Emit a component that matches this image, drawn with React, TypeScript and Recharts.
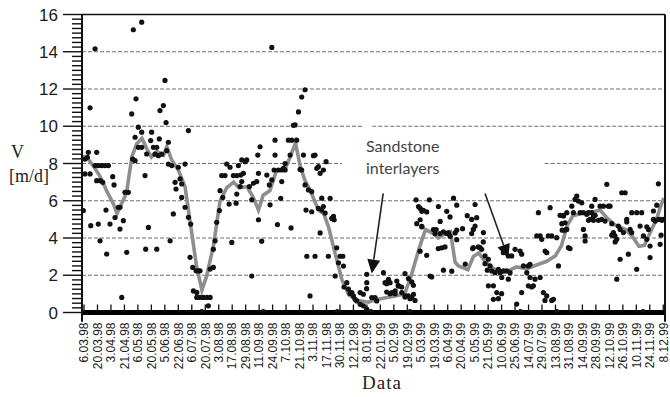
import { ComposedChart, Scatter, Line, XAxis, YAxis, ReferenceLine } from "recharts";

// x positions are in "label slots" (0 = 6.03.98 … 43 = 8.12.99), y in m/d
const dateLabels = [
  "6.03.98", "20.03.98", "3.04.98", "21.04.98", "6.05.98", "20.05.98", "5.06.98", "22.06.98",
  "6.07.98", "20.07.98", "3.08.98", "17.08.98", "29.08.98", "11.09.98", "24.09.98", "7.10.98",
  "21.10.98", "3.11.98", "17.11.98", "30.11.98", "12.12.98", "8.01.99", "22.01.99", "5.02.99",
  "19.02.99", "5.03.99", "19.03.99", "6.04.99", "20.04.99", "5.05.99", "21.05.99", "10.06.99",
  "25.06.99", "14.07.99", "29.07.99", "13.08.99", "31.08.99", "14.09.99", "28.09.99", "12.10.99",
  "26.10.99", "10.11.99", "24.11.99", "8.12.99",
];

const measured: [number, number][] = [
  [-0.05, 5.47], [0.07, 7.44], [0.07, 8.24], [0.25, 8.33], [0.32, 8.6], [0.45, 7.44], [0.45, 10.99], [0.5, 4.66],
  [0.82, 14.16], [0.82, 7.89], [0.94, 8.6], [0.94, 7.08], [1.06, 7.89], [1.06, 4.75], [1.19, 7.08], [1.19, 3.85],
  [1.31, 7.89], [1.39, 6.99], [1.56, 7.89], [1.63, 5.5], [1.68, 3.14], [1.81, 7.89], [1.93, 4.75], [2.13, 7.29],
  [2.23, 6.85], [2.3, 5.1], [2.55, 5.65], [2.67, 5.65], [2.67, 4.48], [2.8, 0.81], [2.92, 4.93], [3.04, 6.45],
  [3.17, 3.23], [3.29, 6.45], [3.54, 10.66], [3.61, 8.24], [3.66, 15.18], [3.79, 8.15], [3.79, 9.41], [3.86, 11.47],
  [4.03, 9.95], [4.03, 8.87], [4.28, 15.59], [4.28, 9.68], [4.28, 8.87], [4.53, 7.35], [4.58, 3.4], [4.65, 8.51],
  [4.78, 4.57], [4.95, 9.23], [5.02, 9.68], [5.15, 8.87], [5.27, 8.5], [5.4, 8.87], [5.4, 3.4], [5.52, 8.42],
  [5.59, 9.32], [5.64, 10.84], [5.77, 8.5], [5.89, 11.11], [6.01, 12.46], [6.09, 10.2], [6.14, 8.69], [6.26, 9.14],
  [6.26, 7.97], [6.39, 3.85], [6.51, 7.89], [6.63, 5.29], [6.76, 6.99], [6.83, 6.63], [7.0, 7.8], [7.13, 7.17],
  [7.25, 6.9], [7.25, 6.18], [7.5, 7.97], [7.5, 5.65], [7.75, 5.11], [7.75, 9.77], [7.87, 2.96], [7.92, 4.75],
  [8.07, 2.42], [8.12, 1.16], [8.32, 2.24], [8.37, 1.08], [8.37, 0.81], [8.49, 2.24], [8.61, 2.24], [8.61, 0.81],
  [8.74, 0.05], [8.86, 0.81], [9.11, 0.81], [9.23, 0.36], [9.36, 0.81], [9.36, 2.33], [9.6, 2.42], [9.6, 3.4],
  [9.73, 3.85], [9.85, 4.84], [10.05, 5.47], [10.1, 6.54], [10.22, 7.35], [10.3, 6.18], [10.47, 7.35], [10.59, 7.97],
  [10.77, 5.82], [10.84, 7.8], [10.97, 3.76], [11.09, 7.35], [11.29, 5.87], [11.34, 7.35], [11.34, 6.36], [11.46, 7.89],
  [11.59, 6.76], [11.63, 7.38], [11.71, 8.19], [11.71, 7.03], [11.83, 7.47], [11.96, 8.1], [12.08, 8.19], [12.28, 6.76],
  [12.45, 6.05], [12.45, 1.96], [12.58, 6.94], [12.82, 7.03], [12.9, 8.45], [12.95, 7.47], [12.95, 4.98], [13.07, 8.9],
  [13.19, 3.83], [13.3, 0.05], [13.57, 7.38], [13.76, 6.85], [13.81, 5.78], [13.94, 7.12], [13.94, 14.23], [14.11, 7.65],
  [14.18, 9.25], [14.18, 8.45], [14.36, 4.72], [14.43, 7.65], [14.6, 6.13], [14.68, 7.65], [14.68, 7.03], [14.8, 7.74],
  [14.93, 8.0], [14.93, 7.65], [15.17, 9.25], [15.3, 8.45], [15.37, 4.54], [15.42, 9.25], [15.54, 10.05], [15.67, 10.07],
  [15.79, 9.25], [15.92, 10.77], [16.04, 7.68], [16.16, 11.57], [16.16, 7.65], [16.29, 8.45], [16.41, 11.96], [16.41, 6.85],
  [16.48, 5.5], [16.54, 3.02], [16.66, 6.58], [16.78, 0.89], [16.9, 6.49], [16.9, 5.41], [17.03, 8.42], [17.15, 8.45],
  [17.15, 3.02], [17.28, 7.74], [17.4, 7.83], [17.4, 5.59], [17.53, 7.47], [17.53, 4.27], [17.65, 6.14], [17.65, 5.5],
  [17.77, 7.65], [17.77, 5.69], [17.9, 5.34], [17.97, 8.1], [18.14, 3.02], [18.27, 6.13], [18.39, 5.05], [18.52, 5.16],
  [18.57, 4.98], [18.64, 1.96], [18.76, 3.47], [18.8, 0.05], [18.89, 2.67], [19.01, 3.02], [19.21, 3.02], [19.26, 2.49],
  [19.3, 1.37], [19.51, 1.6], [19.63, 1.25], [19.75, 1.02], [19.88, 1.07], [20.0, 0.89], [20.12, 0.71], [20.25, 0.62],
  [20.5, 1.07], [20.5, 0.44], [20.74, 0.98], [20.74, 0.36], [20.98, 1.28], [20.99, 1.6], [20.99, 2.05], [20.99, 0.18],
  [21.3, 0.05], [21.36, 0.8], [21.6, 0.8], [21.73, 0.62], [22.23, 2.14], [22.35, 1.6], [22.47, 1.55], [22.47, 1.1],
  [22.6, 1.78], [22.72, 1.6], [22.72, 1.01], [22.85, 1.07], [23.09, 1.01], [23.1, 1.16], [23.22, 1.69], [23.33, 1.46],
  [23.34, 1.42], [23.58, 1.37], [23.59, 1.07], [23.83, 2.09], [23.83, 0.83], [23.84, 0.89], [24.08, 1.82], [24.08, 0.89],
  [24.2, 0.74], [24.2, 0.05], [24.33, 1.64], [24.33, 0.8], [24.45, 1.46], [24.46, 0.98], [24.57, 0.65], [24.65, 6.05],
  [24.7, 4.77], [24.83, 5.69], [24.95, 5.6], [24.95, 4.98], [24.95, 3.29], [25.07, 4.6], [25.08, 5.43], [25.08, 4.63],
  [25.19, 5.49], [25.44, 3.07], [25.44, 5.4], [25.64, 6.05], [25.69, 1.96], [25.81, 1.91], [25.94, 4.45], [26.06, 4.24],
  [26.14, 4.45], [26.31, 5.69], [26.3, 3.43], [26.43, 4.24], [26.44, 4.89], [26.56, 3.47], [26.68, 4.33], [26.68, 2.27],
  [26.8, 3.52], [26.92, 4.24], [26.93, 5.43], [27.06, 4.27], [27.17, 5.13], [27.18, 4.09], [27.3, 2.22], [27.43, 6.14],
  [27.55, 4.27], [27.67, 3.91], [27.67, 5.76], [27.67, 4.42], [28.1, 4.5], [28.3, 2.6], [28.45, 5.2], [28.78, 5.0],
  [28.78, 4.24], [28.85, 3.43], [28.9, 4.46], [28.9, 3.48], [29.03, 5.8], [29.03, 4.64], [29.15, 5.09], [29.27, 3.52],
  [29.4, 3.48], [29.52, 3.39], [29.64, 3.79], [29.65, 4.29], [29.77, 3.04], [29.77, 2.62], [29.94, 2.27], [30.02, 2.86],
  [30.02, 1.43], [30.14, 2.5], [30.27, 2.23], [30.39, 1.43], [30.39, 0.71], [30.51, 2.14], [30.64, 1.07], [30.76, 2.32],
  [30.76, 0.74], [30.89, 2.14], [31.01, 1.88], [31.0, 1.01], [31.13, 2.23], [31.13, 3.21], [31.38, 2.23], [31.38, 3.48],
  [31.5, 1.79], [31.5, 3.04], [31.63, 2.14], [31.75, 3.04], [32.0, 3.39], [32.12, 0.45], [32.37, 3.3], [32.4, 0.05],
  [32.49, 3.13], [32.49, 1.07], [32.62, 2.5], [32.87, 2.14], [32.99, 2.5], [32.99, 1.43], [33.11, 2.59], [33.11, 1.88],
  [33.23, 1.37], [33.36, 1.43], [33.48, 1.79], [33.61, 4.11], [33.73, 5.36], [33.86, 4.11], [33.86, 1.88], [33.98, 3.93],
  [34.1, 1.07], [34.23, 3.3], [34.22, 0.65], [34.35, 3.21], [34.35, 0.89], [34.47, 4.11], [34.6, 5.63], [34.72, 4.11],
  [34.72, 0.65], [34.85, 0.71], [35.09, 4.02], [35.1, 0.05], [35.22, 2.5], [35.34, 5.22], [35.47, 4.77], [35.5, 4.42],
  [35.59, 5.18], [35.6, 5.22], [35.71, 4.82], [35.71, 4.42], [35.84, 4.46], [35.84, 5.36], [35.96, 3.48], [36.08, 3.43],
  [36.21, 5.71], [36.33, 5.36], [36.45, 6.07], [36.58, 6.25], [36.7, 5.98], [36.83, 5.36], [36.95, 5.89], [37.07, 5.36],
  [37.07, 4.46], [37.2, 4.11], [37.2, 3.84], [37.32, 5.27], [37.44, 5.36], [37.45, 4.95], [37.57, 5.0], [37.69, 5.36],
  [37.69, 5.71], [37.82, 5.18], [37.82, 4.95], [37.94, 6.07], [37.94, 5.22], [38.19, 4.95], [38.31, 5.71], [38.43, 5.0],
  [38.56, 5.71], [38.68, 4.91], [38.81, 6.88], [38.93, 5.71], [39.05, 5.71], [39.18, 4.77], [39.18, 4.15], [39.3, 4.29],
  [39.42, 4.11], [39.43, 3.79], [39.55, 3.93], [39.55, 1.79], [39.67, 4.64], [39.8, 4.46], [39.8, 2.86], [39.92, 6.43],
  [40.04, 4.29], [40.17, 6.43], [40.29, 5.0], [40.29, 4.86], [40.41, 3.13], [40.54, 4.46], [40.66, 4.29], [40.66, 5.36],
  [41.03, 5.36], [41.03, 2.32], [41.28, 4.64], [41.4, 5.36], [41.5, 0.05], [41.53, 4.11], [41.78, 3.93], [41.78, 4.6],
  [41.9, 4.46], [42.02, 2.95], [42.02, 3.57], [42.27, 5.0], [42.27, 5.45], [42.4, 4.91], [42.52, 5.76], [42.64, 5.0],
  [42.64, 6.91], [42.77, 5.0], [42.77, 3.66], [42.84, 4.15], [42.9, 4.95], [43.0, 5.0],
];

// gray running-mean curve
const trend: [number, number][] = [
  [-0.1, 8.4], [0.25, 8.3], [0.7, 7.85], [1.2, 7.3], [1.7, 6.5], [2.2, 5.8], [2.45, 5.3], [2.7, 5.7],
  [3.15, 6.4], [3.55, 8.35], [3.9, 9.05], [4.3, 9.35], [4.65, 8.8], [5.0, 8.35], [5.4, 8.65], [5.9, 8.45],
  [6.15, 8.9], [6.5, 8.2], [7.0, 7.65], [7.5, 6.75], [8.0, 4.25], [8.35, 2.5], [8.75, 1.2], [9.1, 1.95],
  [9.6, 3.55], [10.1, 6.0], [10.6, 6.7], [11.1, 7.0], [11.5, 6.7], [12.1, 6.75], [12.55, 6.2], [12.95, 5.5],
  [13.3, 6.3], [13.8, 6.55], [14.3, 7.65], [14.9, 7.65], [15.3, 8.35], [15.7, 9.1], [16.05, 7.85], [16.4, 7.1],
  [16.8, 6.55], [17.4, 5.5], [17.8, 5.3], [18.15, 4.6], [18.65, 3.15], [19.15, 1.75], [19.65, 0.95], [20.25, 0.65],
  [21.1, 0.55], [21.7, 0.7], [22.5, 0.8], [23.2, 0.9], [23.8, 1.0], [24.3, 2.0], [24.9, 3.5], [25.35, 4.45],
  [25.9, 4.25], [26.3, 4.0], [26.9, 4.3], [27.2, 4.35], [27.55, 2.7], [27.8, 2.5], [28.5, 2.3], [28.9, 3.0],
  [29.3, 3.2], [29.65, 2.85], [30.15, 2.5], [30.8, 2.15], [31.4, 2.2], [32.1, 2.45], [32.9, 2.35], [33.6, 2.55],
  [34.35, 2.75], [35.0, 3.05], [35.45, 3.6], [35.85, 4.65], [36.3, 5.2], [37.1, 5.35], [37.8, 5.4], [38.3, 5.5],
  [38.8, 5.1], [39.4, 4.7], [40.2, 4.45], [40.7, 4.1], [41.2, 3.55], [41.6, 3.6], [42.1, 4.4], [42.5, 5.0],
  [42.8, 5.7], [43.05, 6.15],
];

const majorY = [0, 2, 4, 6, 8, 10, 12, 14, 16];
const fullGridY = [2, 4, 6, 12, 14];
// gridlines broken by the annotation text: [y, fromX, toX]
const brokenGrid: [number, number, number][] = [
  [10, -0.15, 20.7], [10, 21.4, 43.13],
  [8, -0.15, 19.15], [8, 34.2, 43.13],
];
// arrows: [fromX, fromY, toX, toY]
const arrows: [number, number, number, number][] = [
  [22.21, 6.39, 21.36, 2.09],
  [29.77, 6.39, 31.5, 2.9],
];

const X_MIN = -0.15;
const X_MAX = 43.13;

const dotRows = measured.map(([x, y]) => ({ x, y }));
const trendRows = trend.map(([x, y]) => ({ x, y }));
const yTicks = Array.from({ length: 65 }, (_, i) => i * 0.25);
const xTicks = dateLabels.map((_, i) => i);

const YTick = (props: any) => {
  const { x, y, payload } = props;
  const v = payload.value;
  const major = majorY.includes(v);
  const len = major ? 19 : 10;
  return (
    <g>
      <line x1={x - len} x2={x} y1={y} y2={y} stroke="#111" strokeWidth={1.4} />
      {major && (
        <text x={x - 24} y={y} dy="0.36em" textAnchor="end" fontSize={17} fill="#1a1a1a"
          fontFamily="'Liberation Sans', Arial, sans-serif">
          {v}
        </text>
      )}
    </g>
  );
};

const XTick = (props: any) => {
  const { x, y, payload } = props;
  const label = dateLabels[payload.value] ?? "";
  return (
    <g>
      <line x1={x} x2={x} y1={y} y2={y - 8} stroke="#111" strokeWidth={1.3} />
      <text transform={`translate(${x + 4.3},${y + 10}) rotate(-90)`} textAnchor="end" fontSize={12}
        fill="#1a1a1a" fontFamily="'Liberation Sans', Arial, sans-serif">
        {label}
      </text>
    </g>
  );
};

const arrowShape = (p: any) => {
  const { x1, y1, x2, y2 } = p;
  const a = Math.atan2(y2 - y1, x2 - x1);
  const L = 14, W = 6.5;
  const bx = x2 - L * Math.cos(a), by = y2 - L * Math.sin(a);
  const nx = -Math.sin(a) * W, ny = Math.cos(a) * W;
  return (
    <g>
      <line x1={x1} y1={y1} x2={bx} y2={by} stroke="#222" strokeWidth={1.6} />
      <polygon points={`${x2},${y2} ${bx + nx},${by + ny} ${bx - nx},${by - ny}`} fill="#111" />
    </g>
  );
};

export default function App() {
  return (
    <div style={{ position: "absolute", left: 0, top: 0, width: 670, height: 397, background: "#fff" }}>
      <ComposedChart width={670} height={397} margin={{ top: 14.5, right: 5, bottom: 0, left: 0 }}>
        <XAxis dataKey="x" type="number" domain={[X_MIN, X_MAX]} ticks={xTicks} interval={0}
          allowDataOverflow height={84.5} axisLine={false} tickLine={false} tickSize={0} tickMargin={0}
          tick={<XTick />} />
        <YAxis type="number" domain={[0, 16]} ticks={yTicks} interval={0} allowDataOverflow width={82}
          axisLine={false} tickLine={false} tickSize={0} tickMargin={0} tick={<YTick />} />

        {fullGridY.map((g) => (
          <ReferenceLine key={`g${g}`} y={g} stroke="#6f6f6f" strokeWidth={1.2} strokeDasharray="4 2" />
        ))}
        {brokenGrid.map(([g, a, b], i) => (
          <ReferenceLine key={`b${i}`} segment={[{ x: a, y: g }, { x: b, y: g }]} stroke="#6f6f6f"
            strokeWidth={1.2} strokeDasharray="4 2" />
        ))}

        <Scatter data={dotRows} dataKey="y" isAnimationActive={false}
          shape={(p: any) => <circle cx={p.cx} cy={p.cy} r={2.6} fill="#111" />} />
        <Line data={trendRows} dataKey="y" type="linear" stroke="#8e8e8e" strokeWidth={3.6} dot={false}
          activeDot={false} isAnimationActive={false} />

        {arrows.map(([x1, y1, x2, y2], i) => (
          <ReferenceLine key={`a${i}`} segment={[{ x: x1, y: y1 }, { x: x2, y: y2 }]} shape={arrowShape} />
        ))}

        <ReferenceLine y={16} stroke="#111" strokeWidth={1.6} />
        <ReferenceLine y={0} stroke="#000" strokeWidth={5} />
        <ReferenceLine segment={[{ x: X_MIN, y: -0.5 }, { x: X_MIN, y: 16 }]} ifOverflow="visible"
          stroke="#111" strokeWidth={2} />
        <ReferenceLine segment={[{ x: X_MAX, y: -0.5 }, { x: X_MAX, y: 16 }]} ifOverflow="visible"
          stroke="#111" strokeWidth={2} />
      </ComposedChart>

      <div style={{ position: "absolute", left: 9, top: 140, fontFamily: "'Liberation Serif', serif", fontSize: 18, color: "#222", lineHeight: "24px" }}>
        <div style={{ paddingLeft: 2 }}>V</div>
        <div>[m/d]</div>
      </div>
      <div style={{ position: "absolute", left: 366, top: 135, fontFamily: "Lato, 'Open Sans', sans-serif", fontSize: 16, color: "#444", lineHeight: "22px" }}>
        <div>Sandstone</div>
        <div>interlayers</div>
      </div>
      <div style={{ position: "absolute", left: 362, top: 372, fontFamily: "'Liberation Serif', serif", fontSize: 19, color: "#222", letterSpacing: 1 }}>
        Data
      </div>
    </div>
  );
}
